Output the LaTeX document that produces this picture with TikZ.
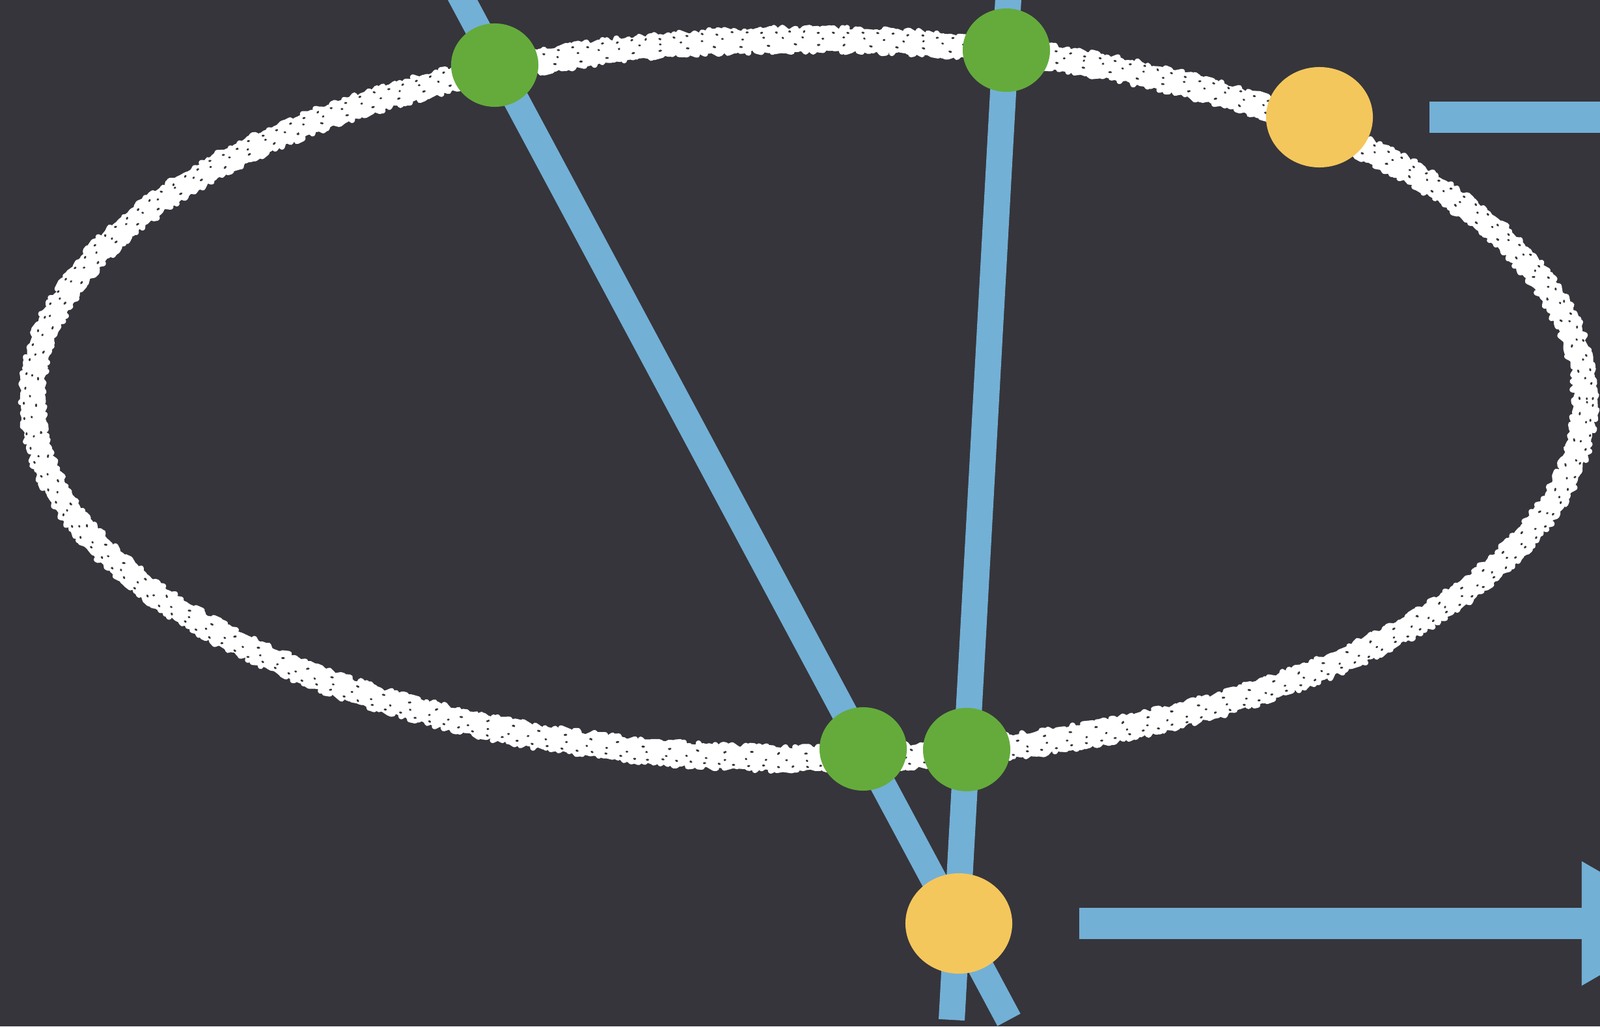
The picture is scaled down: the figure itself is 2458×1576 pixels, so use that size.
\documentclass[tikz,border=0pt]{standalone}
\usepackage{xcolor}
\usepackage{tikz}
\usetikzlibrary{
  arrows.meta,
  shapes.geometric,
  decorations.pathmorphing
}
\definecolor{board}{RGB}{54,53,59}
\definecolor{chalkblue}{RGB}{115,176,214}
\definecolor{dotgreen}{RGB}{100,171,60}
\definecolor{dotyellow}{RGB}{244,199,92}

\begin{document}
\begin{tikzpicture}[
  x=0.01cm, y=-0.01cm,
  chalk/.style={
    draw=white, line width=#1, line join=round, decorate,
    decoration={random steps, segment length=1.5pt, amplitude=0.6pt}
  },
  chalk/.default=9pt,
  speck/.style={
    draw=board, line width=0.8pt, line cap=round, dash pattern=on 0.6pt off 6.3pt, decorate,
    decoration={random steps, segment length=1.3pt, amplitude=0.6pt}
  },
  bluebar/.style={draw=chalkblue, line width=11.4pt},
  arrow/.style={draw=chalkblue, line width=13.7pt, -{Triangle[length=1.68cm, width=1.78cm]}},
  greendot/.style={
    ellipse, fill=dotgreen, inner sep=0pt,
    minimum width=1.34cm, minimum height=1.28cm
  },
  yellowdot/.style={
    ellipse, fill=dotyellow, inner sep=0pt,
    minimum width=1.64cm, minimum height=1.54cm
  }
]
\fill[board] (0,0) rectangle (2458,1576);
\useasboundingbox (0,0) rectangle (2458,1576);
\clip (0,0) rectangle (2458,1576);
\draw[chalk] (1242,613) ellipse [x radius=11.92cm, y radius=5.52cm];
\draw[chalk=2.5pt, decoration={amplitude=1.4pt, segment length=1.1pt}] (1242,613) ellipse [x radius=12.06cm, y radius=5.66cm];
\draw[chalk=2.5pt, decoration={amplitude=1.4pt, segment length=1.1pt}] (1242,613) ellipse [x radius=11.78cm, y radius=5.38cm];
\draw[speck] (1242,613) ellipse [x radius=12.04cm, y radius=5.64cm];
\draw[speck, dash pattern=on 0.4pt off 9.1pt] (1242,613) ellipse [x radius=11.95cm, y radius=5.55cm];
\draw[speck, dash pattern=on 0.8pt off 11.7pt] (1242,613) ellipse [x radius=11.84cm, y radius=5.44cm];
\coordinate (diagtop) at (700,-20);
\coordinate (diagend) at (1550,1566);
\coordinate (verttop) at (1550,-20);
\coordinate (vertend) at (1462,1566);
\coordinate (headtr) at (2800,180);
\coordinate (headbot) at (2598,1418);
\draw[bluebar] (diagtop) -- (diagend);
\draw[bluebar] (verttop) -- (vertend);
\node[greendot] (gtl) at (760,100) {};
\node[greendot] (gtr) at (1546,77) {};
\node[greendot] (gbl) at (1326,1150) {};
\node[greendot] (gbr) at (1485,1151) {};
\node[yellowdot] (ytr) at (2027,180) {};
\node[yellowdot] (ybot) at (1473,1418) {};
\draw[arrow, shorten <=0.86cm] (ytr) -- (headtr);
\draw[arrow, shorten <=1.02cm] (ybot) -- (headbot);
\end{tikzpicture}
\end{document}
